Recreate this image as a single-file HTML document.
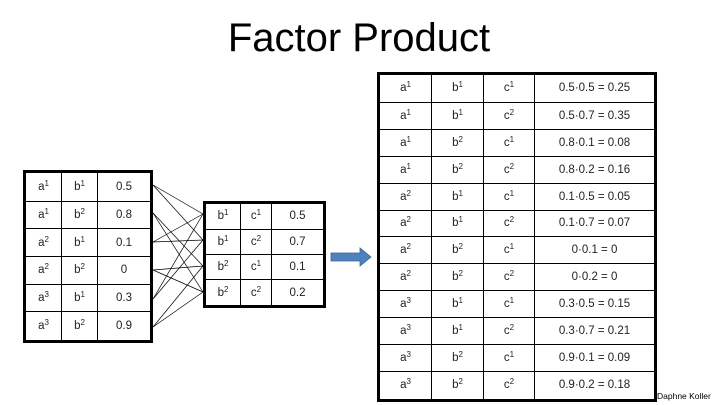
<!DOCTYPE html>
<html><head><style>
body{margin:0;width:720px;height:405px;background:#fff;position:relative;overflow:hidden;font-family:"Liberation Sans",sans-serif;}
table{position:absolute;border-collapse:collapse;border:3px solid #000;}
td{border:1.5px solid #000;padding:0;text-align:center;font-size:11.5px;color:#222;}
sup{font-size:8px;vertical-align:4px;line-height:0}
.t{position:absolute;left:0;width:718px;top:14px;text-align:center;font-size:40px;line-height:48px;}
</style></head><body>
<div class="t">Factor Product</div>
<table style="left:23px;top:170px;width:130px;height:173px">
<colgroup><col style="width:37px"><col style="width:36px"><col></colgroup>
<tr><td>a<sup>1</sup></td><td>b<sup>1</sup></td><td>0.5</td></tr>
<tr><td>a<sup>1</sup></td><td>b<sup>2</sup></td><td>0.8</td></tr>
<tr><td>a<sup>2</sup></td><td>b<sup>1</sup></td><td>0.1</td></tr>
<tr><td>a<sup>2</sup></td><td>b<sup>2</sup></td><td>0</td></tr>
<tr><td>a<sup>3</sup></td><td>b<sup>1</sup></td><td>0.3</td></tr>
<tr><td>a<sup>3</sup></td><td>b<sup>2</sup></td><td>0.9</td></tr>
</table>
<table style="left:203px;top:201px;width:123px;height:107px">
<colgroup><col style="width:36px"><col style="width:31px"><col></colgroup>
<tr><td>b<sup>1</sup></td><td>c<sup>1</sup></td><td>0.5</td></tr>
<tr><td>b<sup>1</sup></td><td>c<sup>2</sup></td><td>0.7</td></tr>
<tr><td>b<sup>2</sup></td><td>c<sup>1</sup></td><td>0.1</td></tr>
<tr><td>b<sup>2</sup></td><td>c<sup>2</sup></td><td>0.2</td></tr>
</table>
<svg style="position:absolute;left:0;top:0" width="720" height="405">
<g stroke="#000" stroke-width="0.7">
<line x1="153" y1="185" x2="203" y2="214"/><line x1="153" y1="185" x2="203" y2="240"/>
<line x1="153" y1="242" x2="203" y2="214"/><line x1="153" y1="242" x2="203" y2="240"/>
<line x1="153" y1="299" x2="203" y2="214"/><line x1="153" y1="299" x2="203" y2="240"/>
<line x1="153" y1="213" x2="203" y2="266"/><line x1="153" y1="213" x2="203" y2="292"/>
<line x1="153" y1="270" x2="203" y2="266"/><line x1="153" y1="270" x2="203" y2="292"/>
<line x1="153" y1="327" x2="203" y2="266"/><line x1="153" y1="327" x2="203" y2="292"/>
</g>
<polygon points="331,253 360,253 360,248 371,257 360,266 360,261 331,261" fill="#4f81bd" stroke="#3a6595" stroke-width="0.8"/>
</svg>
<table style="left:377px;top:72px;width:280px;height:330px">
<colgroup><col style="width:53px"><col style="width:52px"><col style="width:51px"><col></colgroup>
<tr><td>a<sup>1</sup></td><td>b<sup>1</sup></td><td>c<sup>1</sup></td><td>0.5·0.5 = 0.25</td></tr>
<tr><td>a<sup>1</sup></td><td>b<sup>1</sup></td><td>c<sup>2</sup></td><td>0.5·0.7 = 0.35</td></tr>
<tr><td>a<sup>1</sup></td><td>b<sup>2</sup></td><td>c<sup>1</sup></td><td>0.8·0.1 = 0.08</td></tr>
<tr><td>a<sup>1</sup></td><td>b<sup>2</sup></td><td>c<sup>2</sup></td><td>0.8·0.2 = 0.16</td></tr>
<tr><td>a<sup>2</sup></td><td>b<sup>1</sup></td><td>c<sup>1</sup></td><td>0.1·0.5 = 0.05</td></tr>
<tr><td>a<sup>2</sup></td><td>b<sup>1</sup></td><td>c<sup>2</sup></td><td>0.1·0.7 = 0.07</td></tr>
<tr><td>a<sup>2</sup></td><td>b<sup>2</sup></td><td>c<sup>1</sup></td><td>0·0.1 = 0</td></tr>
<tr><td>a<sup>2</sup></td><td>b<sup>2</sup></td><td>c<sup>2</sup></td><td>0·0.2 = 0</td></tr>
<tr><td>a<sup>3</sup></td><td>b<sup>1</sup></td><td>c<sup>1</sup></td><td>0.3·0.5 = 0.15</td></tr>
<tr><td>a<sup>3</sup></td><td>b<sup>1</sup></td><td>c<sup>2</sup></td><td>0.3·0.7 = 0.21</td></tr>
<tr><td>a<sup>3</sup></td><td>b<sup>2</sup></td><td>c<sup>1</sup></td><td>0.9·0.1 = 0.09</td></tr>
<tr><td>a<sup>3</sup></td><td>b<sup>2</sup></td><td>c<sup>2</sup></td><td>0.9·0.2 = 0.18</td></tr>
</table>
<div style="position:absolute;left:657px;top:391px;font-size:8.5px;">Daphne Koller</div>
</body></html>
